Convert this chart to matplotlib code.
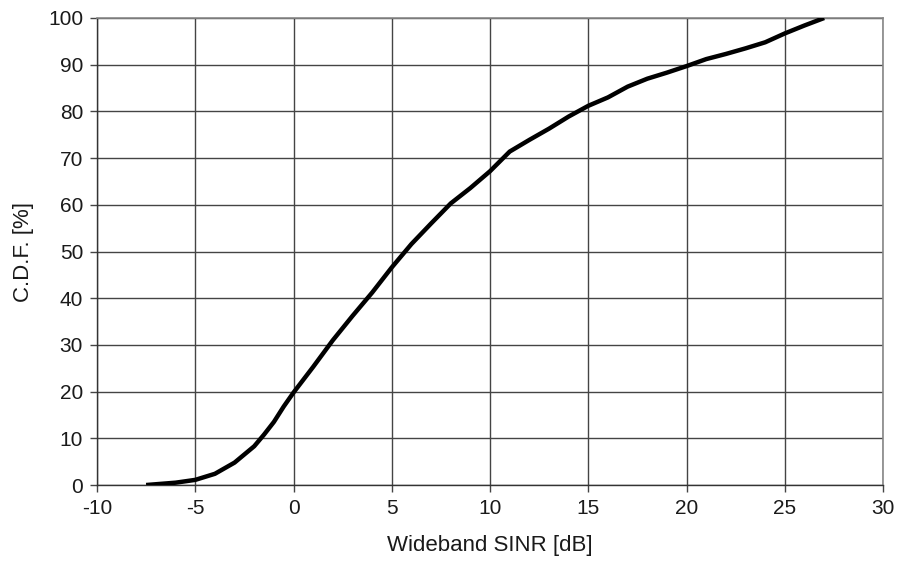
import numpy as np
import matplotlib
matplotlib.use('Agg')
import matplotlib.pyplot as plt

# values
sinr_db = [-7.5, -6, -5, -4, -3, -2, -1.5, -1, -0.5, 0, 1, 2, 3, 4, 5, 6,
           7, 8, 9, 10, 11, 12, 13, 14, 15, 16, 17, 18, 19, 20, 21, 22, 23, 24,
           25, 26, 27]
cdf_pct = [0, 0.5, 1.1, 2.4, 4.8, 8.3, 10.8, 13.5, 16.8, 19.8, 25.3, 31, 36.2,
           41.2, 46.6, 51.6, 56, 60.3, 63.6, 67.2, 71.4, 73.9, 76.3, 78.9, 81.2,
           83, 85.3, 87, 88.3, 89.7, 91.2, 92.3, 93.5, 94.8, 96.7, 98.4, 100]

x_ticks = list(range(-10, 31, 5))
y_ticks = list(range(0, 101, 10))

plt.rcParams['font.family'] = ['Liberation Sans', 'DejaVu Sans']

fig = plt.figure(figsize=(9.03, 5.75), dpi=100)
ax = fig.add_axes([0.1074, 0.1565, 0.8706, 0.8122])

ax.plot(sinr_db, cdf_pct, color='black', lw=3.2, solid_capstyle='butt',
        solid_joinstyle='round', zorder=3)

ax.set_xlim(-10, 30)
ax.set_ylim(0, 100)
ax.set_xticks(x_ticks)
ax.set_yticks(y_ticks)
ax.set_xticklabels([str(t) for t in x_ticks])
ax.set_yticklabels([str(t) for t in y_ticks])
ax.grid(True, color='#444444', lw=1.0)
ax.tick_params(direction='out', length=5, width=1, color='#444444',
               labelsize=15, pad=5, labelcolor='#1a1a1a')

for s in ['top', 'right']:
    ax.spines[s].set_color('#888888')
    ax.spines[s].set_linewidth(1.2)
for s in ['left', 'bottom']:
    ax.spines[s].set_color('#333333')
    ax.spines[s].set_linewidth(1.0)

ax.set_xlabel('Wideband SINR [dB]', fontsize=16, labelpad=12, color='#1a1a1a')
ax.set_ylabel('C.D.F. [%]', fontsize=16, labelpad=10, color='#1a1a1a')

fig.savefig('out.png', dpi=100)
